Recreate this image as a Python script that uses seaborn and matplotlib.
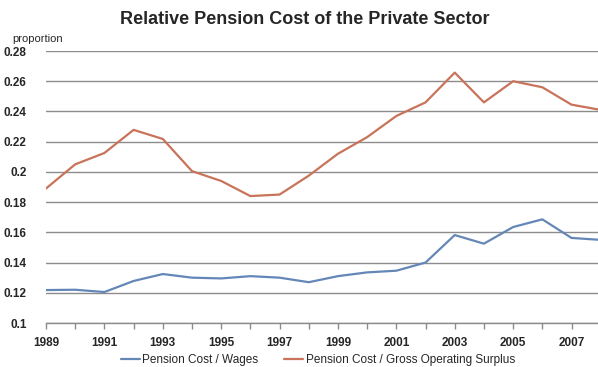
import matplotlib
matplotlib.use("Agg")
import matplotlib.pyplot as plt
from matplotlib.ticker import MultipleLocator, FixedLocator, FuncFormatter
import seaborn as sns
import pandas as pd

years = list(range(1989, 2009))
cost_wages = [0.1218, 0.122, 0.1205, 0.1278, 0.1324, 0.130, 0.1295, 0.131, 0.130, 0.127,
              0.131, 0.1335, 0.1346, 0.140, 0.1582, 0.1525, 0.1635, 0.1686, 0.1563, 0.155]
cost_surplus = [0.189, 0.205, 0.2125, 0.2278, 0.2218, 0.2005, 0.194, 0.184, 0.185, 0.1975,
                0.212, 0.223, 0.237, 0.246, 0.2657, 0.246, 0.260, 0.256, 0.2445, 0.241]
year_labels = [1989, 1991, 1993, 1995, 1997, 1999, 2001, 2003, 2005, 2007]
series_names = ["Pension Cost / Wages", "Pension Cost / Gross Operating Surplus"]
series_colors = ["#6587b8", "#c8735a"]

df = pd.DataFrame({
    "year": years * 2,
    "value": cost_wages + cost_surplus,
    "series": [series_names[0]] * len(years) + [series_names[1]] * len(years),
})

sns.set_theme(style="white")
plt.rcParams["font.family"] = ["Liberation Sans", "DejaVu Sans"]

fig = plt.figure(figsize=(5.98, 3.67), dpi=100)
ax = fig.add_axes([46 / 598, 44 / 367, 554.7 / 598, 272 / 367])

sns.lineplot(data=df, x="year", y="value", hue="series", palette=series_colors,
             hue_order=series_names, linewidth=1.6, ax=ax, legend=False)

ax.set_xlim(1989, 2008)
ax.set_ylim(0.1, 0.28)
ax.yaxis.set_major_locator(MultipleLocator(0.02))
ax.yaxis.set_major_formatter(FuncFormatter(lambda v, p: f"{v:.2f}".rstrip("0")))
ax.xaxis.set_major_locator(FixedLocator(year_labels))
ax.xaxis.set_minor_locator(FixedLocator(years))
ax.xaxis.set_major_formatter(FuncFormatter(lambda v, p: f"{int(round(v))}"))

ax.grid(axis="y", color="#8c8c8c", linewidth=1.0)
ax.set_axisbelow(True)
for s in ["left", "right", "top"]:
    ax.spines[s].set_visible(False)
ax.spines["bottom"].set_color("#8c8c8c")
ax.spines["bottom"].set_linewidth(1.0)

ax.tick_params(axis="x", which="both", bottom=True, direction="out", color="#8c8c8c",
               length=4, width=1.0, labelsize=8.5, pad=6)
ax.tick_params(axis="y", left=False, labelsize=8.5, pad=8)
for lab in ax.get_xticklabels() + ax.get_yticklabels():
    lab.set_fontweight("bold")

ax.set_xlabel("")
ax.set_ylabel("")
fig.text(12 / 598, 1 - 39 / 367, "proportion", fontsize=8, ha="left", va="center")
fig.text(305 / 598, 1 - 20 / 367, "Relative Pension Cost of the Private Sector",
         fontsize=13, fontweight="heavy", ha="center", va="center")

handles = [plt.Line2D([], [], color=c, linewidth=1.6) for c in series_colors]
fig.legend(handles, series_names, loc="center", bbox_to_anchor=(318 / 598, 1 - 360 / 367),
           ncol=2, frameon=False, fontsize=8.5, handlelength=1.6, handletextpad=0.2,
           columnspacing=2.2)

fig.savefig("out.png", dpi=100)
